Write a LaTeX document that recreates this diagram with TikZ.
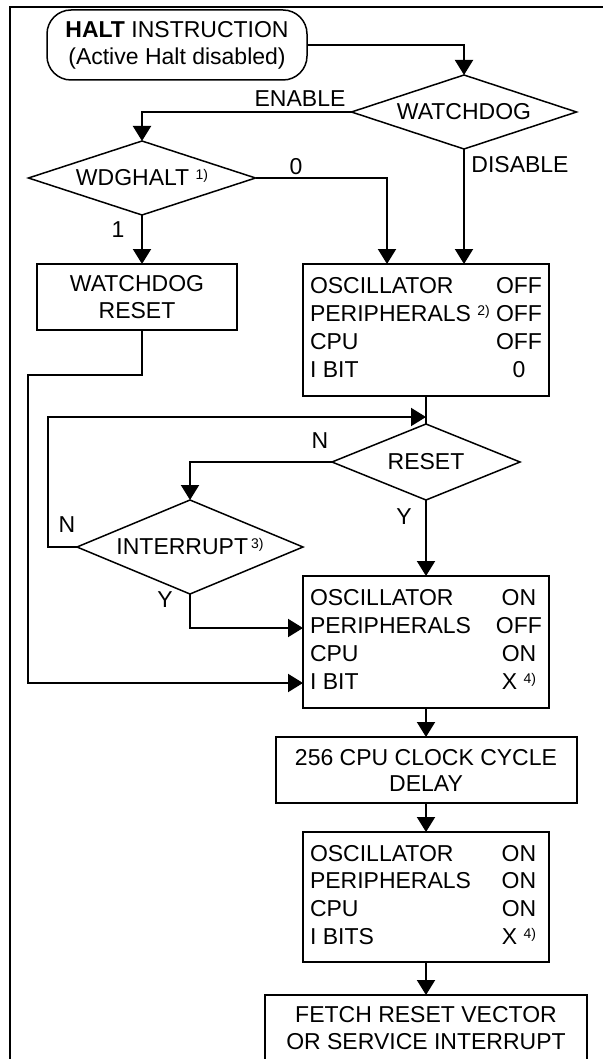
\documentclass[tikz,border=0pt]{standalone}
\usepackage{fontspec}
\usepackage{array}
\setmainfont{Liberation Sans}
\usetikzlibrary{positioning, shapes.geometric, arrows.meta}

\newcommand{\fn}[1]{\raisebox{6pt}{\fontsize{14}{14}\selectfont #1}}
\newcolumntype{V}{>{\centering\arraybackslash}p{46pt}}

\begin{document}
\begin{tikzpicture}[
        x=1pt, y=1pt,
        font=\fontsize{23}{27}\selectfont,
        terminal/.style={draw, rounded corners=24pt, line width=1.5pt, inner sep=0pt, outer sep=0pt, align=center},
        box/.style={rectangle, draw, line width=2pt, inner xsep=7pt, inner ysep=0pt, outer sep=0pt, align=center},
        statebox/.style={box, minimum width=246pt, minimum height=132pt, font=\fontsize{23}{27.7}\selectfont},
        decision/.style={diamond, draw, line width=1.5pt, inner sep=0pt, outer sep=0pt, aspect=2.5},
        flowlabel/.style={inner sep=0pt},
        arrow/.style={-{Triangle[length=15pt, width=18pt]}, line width=2pt},
        wire/.style={line width=2pt},
        node distance=28pt
    ]
    \useasboundingbox (0,0) rectangle (603,-1059);
    \clip (0,0) rectangle (603,-1059);
    % frame
    \draw[line width=2pt] (10,-1059) -- (10,-7) -- (603,-7);

    % start and watchdog tests
    \node[terminal, minimum width=260pt, minimum height=70pt] (start) at (177,-45) {\textbf{HALT} INSTRUCTION\\(Active Halt disabled)};
    \node[decision, minimum width=225pt, minimum height=74pt] (watchdog) at (464,-112) {WATCHDOG};
    \node[decision, minimum width=227pt, minimum height=74pt] (wdghalt) at (142,-178) {WDGHALT \fn{1)}};
    \node[box, minimum width=200pt, minimum height=66pt] (wdreset) at (137,-297) {WATCHDOG\\RESET};

    % halt state and wake-up
    \node[statebox] (offbox) at (426,-330) {%
        \begin{tabular}{@{}p{186pt}@{}V@{}}
        OSCILLATOR & OFF\\
        PERIPHERALS \fn{2)} & OFF\\
        CPU & OFF\\
        I BIT & 0
        \end{tabular}};
    \node[decision, minimum width=188pt, minimum height=76pt, below=28pt of offbox] (reset) {RESET};
    \node[decision, minimum width=226pt, minimum height=94pt] (interrupt) at (190,-547) {INTERRUPT\kern3pt\fn{3)}};
    \node[statebox, below=76pt of reset] (onbox) {%
        \begin{tabular}{@{}p{186pt}@{}V@{}}
        OSCILLATOR & ON\\
        PERIPHERALS & OFF\\
        CPU & ON\\
        I BIT & X \fn{4)}
        \end{tabular}};
    \node[box, minimum width=301pt, minimum height=66pt, font=\fontsize{23}{26}\selectfont, below=29pt of onbox] (delay) {256 CPU CLOCK CYCLE\\DELAY};
    \node[statebox, minimum height=130pt, below=29pt of delay] (runbox) {%
        \begin{tabular}{@{}p{186pt}@{}V@{}}
        OSCILLATOR & ON\\
        PERIPHERALS & ON\\
        CPU & ON\\
        I BITS & X \fn{4)}
        \end{tabular}};
    \node[box, minimum width=322pt, minimum height=66pt, below=33pt of runbox] (fetch) {FETCH RESET VECTOR\\OR SERVICE INTERRUPT};

    % turning points
    \coordinate (wdback) at (28,-375);
    \coordinate (loopturn) at (48,-547);
    \coordinate (join) at ([yshift=7pt]reset.north);
    \coordinate (periph) at ([yshift=14pt]onbox.west);
    \coordinate (ibit) at ([yshift=-41pt]onbox.west);

    % Connections
    \draw[arrow] (start.east) -| (watchdog.north);
    \draw[arrow] (watchdog.west) -| (wdghalt.north);
    \draw[arrow] (watchdog.south) -- (watchdog.south |- offbox.north);
    \draw[arrow] (wdghalt.east) -| ([xshift=-39pt]offbox.north);
    \draw[arrow] (wdghalt.south) -- (wdghalt.south |- wdreset.north);
    \draw[arrow] (wdghalt.south |- wdreset.south) |- (wdback) |- (ibit);
    \draw[wire] (offbox.south) -- (reset.north);
    \draw[arrow] (reset.west) -| (interrupt.north);
    \draw[arrow] (interrupt.west) -- (loopturn) |- (join);
    \draw[arrow] (reset.south) -- (onbox.north);
    \draw[arrow] (interrupt.south) |- (periph);
    \draw[arrow] (onbox.south) -- (delay.north);
    \draw[arrow] (delay.south) -- (runbox.north);
    \draw[arrow] (runbox.south) -- (fetch.north);

    % branch labels
    \node[flowlabel] (enable) at (300,-99) {ENABLE};
    \node[flowlabel] (disable) at (520,-165) {DISABLE};
    \node[flowlabel] (zero) at (296,-167) {0};
    \node[flowlabel] (one) at (118,-230) {1};
    \node[flowlabel] (resetno) at (320,-441) {N};
    \node[flowlabel] (resetyes) at (404,-517) {Y};
    \node[flowlabel] (intno) at (67,-525) {N};
    \node[flowlabel] (intyes) at (165,-600) {Y};
\end{tikzpicture}
\end{document}
